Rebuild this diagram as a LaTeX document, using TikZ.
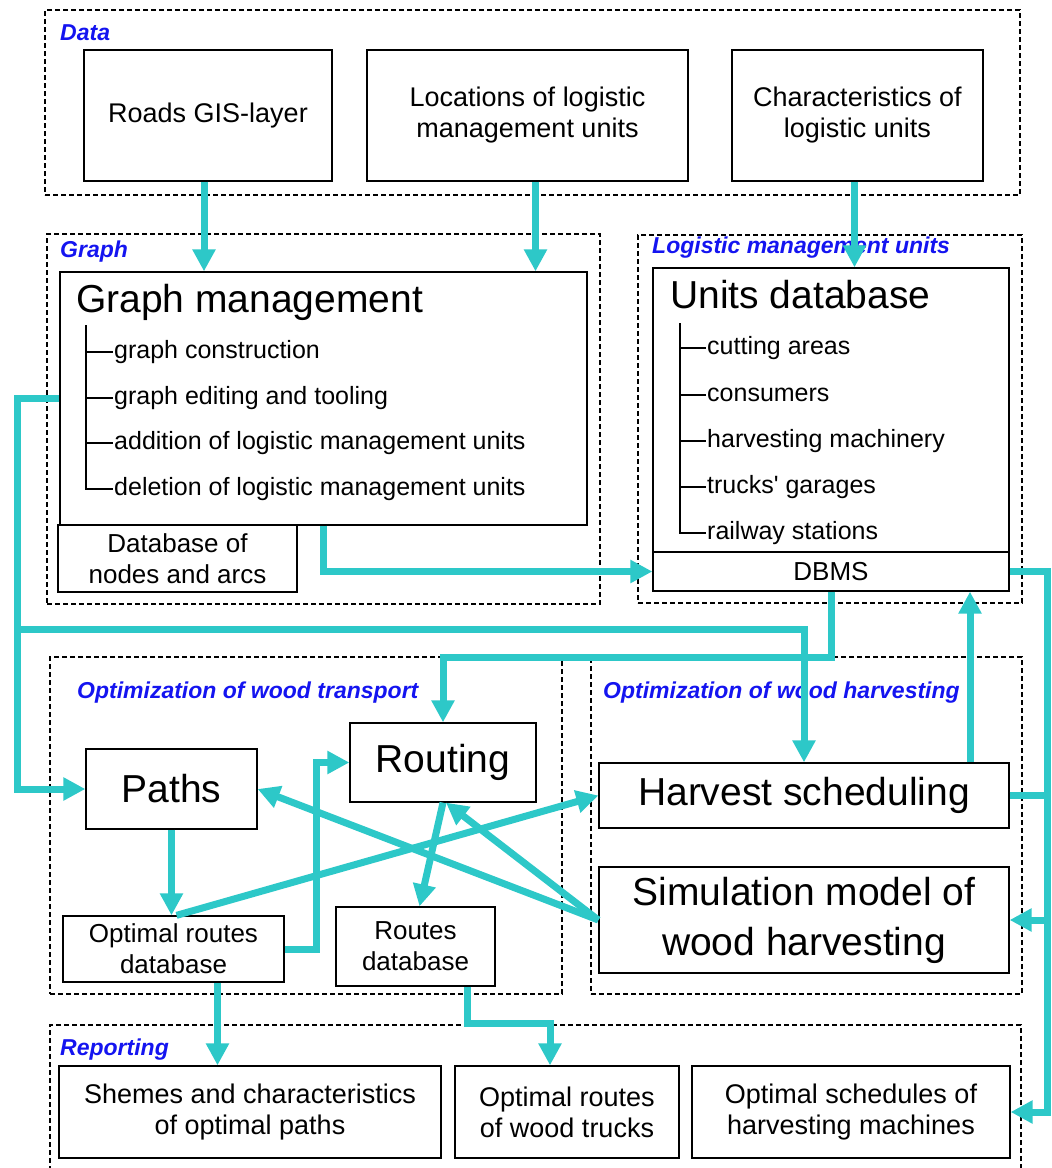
\documentclass[tikz,border=0pt]{standalone}
\usepackage{fontspec}
\setmainfont{Liberation Sans}
\usetikzlibrary{arrows.meta}
\definecolor{flowcyan}{RGB}{45,200,200}
\definecolor{tagblue}{RGB}{20,20,240}
\begin{document}
\begin{tikzpicture}[x=1pt,y=-1pt]
    \tikzstyle{box}=[draw,line width=1.3pt,inner sep=2pt,align=center,font=\fontsize{27}{31}\selectfont];
    \tikzstyle{small}=[box,font=\fontsize{26}{31}\selectfont];
    \tikzstyle{big}=[box,font=\fontsize{39}{50}\selectfont];
    \tikzstyle{group}=[draw,dash pattern=on 5pt off 3pt,line width=1.2pt,inner sep=0pt];
    \tikzstyle{tag}=[anchor=west,inner sep=0pt,text=tagblue,font=\fontsize{23}{27}\selectfont\bfseries\itshape];
    \tikzstyle{item}=[anchor=west,inner sep=1pt,font=\fontsize{25}{30}\selectfont];
    \tikzstyle{flow}=[draw=flowcyan,line width=7pt,-{Triangle[length=22pt,width=22pt]}];
    \tikzstyle{flowline}=[draw=flowcyan,line width=7pt];
    \useasboundingbox (0,0) rectangle (1052,1168);

    \node at (532.5,102.5) (data) [group,minimum width=975,minimum height=185] {};
    \node at (323.5,419)   (graph) [group,minimum width=553,minimum height=370] {};
    \node at (830,419)     (lmu) [group,minimum width=384,minimum height=368] {};
    \node at (306,825.5)   (transport) [group,minimum width=512,minimum height=337] {};
    \node at (806.5,825.5) (harvesting) [group,minimum width=431,minimum height=337] {};
    \node at (535.5,1107.5) (reporting) [group,minimum width=971,minimum height=165] {};

    \node at (60,33)    (tdata) [tag] {Data};
    \node at (60,252)   (tgraph) [tag] {Graph};
    \node at (652,248)  (tlmu) [tag] {Logistic management units};
    \node at (77,693)   (ttransport) [tag] {Optimization of wood transport};
    \node at (603,693)  (tharvesting) [tag] {Optimization of wood harvesting};
    \node at (60,1050)  (treporting) [tag] {Reporting};

    \node at (208,115.5)   (roads) [box,minimum width=248,minimum height=131] {Roads GIS-layer};
    \node at (527.5,115.5) (locs) [box,minimum width=321,minimum height=131] {Locations of logistic\\management units};
    \node at (857.5,115.5) (chars) [box,minimum width=251,minimum height=131] {Characteristics of\\logistic units};

    \node at (323.5,398.5) (gm) [box,minimum width=527,minimum height=253] {};
    \node at (177.5,558.5) (nodesdb) [small,minimum width=239,minimum height=67] {Database of\\nodes and arcs};
    \node at (76,312) (gmtitle) [anchor=base west,inner sep=0pt,font=\fontsize{39}{45}\selectfont] {Graph management};
    \node at (113,352) (gi1) [item] {graph construction};
    \node at (113,398) (gi2) [item] {graph editing and tooling};
    \node at (113,443) (gi3) [item] {addition of logistic management units};
    \node at (113,489) (gi4) [item] {deletion of logistic management units};
    \draw[line width=1.3pt] (86,325) |- (gi4.west);
    \draw[line width=1.3pt] (86,352) -- (gi1.west);
    \draw[line width=1.3pt] (86,398) -- (gi2.west);
    \draw[line width=1.3pt] (86,443) -- (gi3.west);

    \node at (831,410)   (udb) [box,minimum width=356,minimum height=284] {};
    \node at (831,571.5) (dbms) [small,minimum width=356,minimum height=39] {DBMS};
    \node at (670,308) (udbtitle) [anchor=base west,inner sep=0pt,font=\fontsize{39}{45}\selectfont] {Units database};
    \node at (706,348) (ui1) [item] {cutting areas};
    \node at (706,395) (ui2) [item] {consumers};
    \node at (706,441) (ui3) [item] {harvesting machinery};
    \node at (706,487) (ui4) [item] {trucks\textquotesingle{} garages};
    \node at (706,533) (ui5) [item] {railway stations};
    \draw[line width=1.3pt] (680,323) |- (ui5.west);
    \draw[line width=1.3pt] (680,348) -- (ui1.west);
    \draw[line width=1.3pt] (680,395) -- (ui2.west);
    \draw[line width=1.3pt] (680,441) -- (ui3.west);
    \draw[line width=1.3pt] (680,487) -- (ui4.west);

    \node at (171.5,789) (paths) [big,minimum width=171,minimum height=80] {Paths};
    \node at (443,762.5) (routing) [big,minimum width=186,minimum height=79] {Routing};
    \node at (173.5,949) (optdb) [small,minimum width=221,minimum height=66] {Optimal routes\\database};
    \node at (415.5,946.5) (routesdb) [small,minimum width=159,minimum height=79] {Routes\\database};
    \node at (804,795.5) (harv) [big,minimum width=410,minimum height=65] {Harvest scheduling};
    \node at (804,920)   (sim) [big,minimum width=410,minimum height=106] {Simulation model of\\wood harvesting};

    \node at (250,1112) (rep1) [box,minimum width=382,minimum height=92] {Shemes and characteristics\\of optimal paths};
    \node at (567,1112) (rep2) [box,minimum width=224,minimum height=92] {Optimal routes\\of wood trucks};
    \node at (851,1112) (rep3) [box,minimum width=318,minimum height=92] {Optimal schedules of\\harvesting machines};

    \coordinate (hub) at (17,629);
    \coordinate (rbus) at ([xshift=38]sim.east);

    \draw[flow] ([xshift=-4]roads.south) -- ([xshift=-4]roads.south |- gm.north);
    \draw[flow] ([xshift=8]locs.south) -- ([xshift=8]locs.south |- gm.north);
    \draw[flow] ([xshift=-3]chars.south) -- ([xshift=-3]chars.south |- udb.north);
    \draw[flow] (gm.west) -| (hub) -| (harv.north);
    \draw[flow] (hub) |- (paths.west);
    \draw[flow] (gm.south) |- (dbms.west);
    \draw[flow] (dbms.south) -- ++(0,66) -| (routing.north);
    \draw[flow] ([xshift=166]harv.north) -- ([xshift=166]harv.north |- dbms.south);
    \draw[flow] (dbms.east) -| (rbus) -- (sim.east);
    \draw[flowline] (harv.east) -- (harv.east -| rbus);
    \draw[flow] (rbus) |- (rep3.east);
    \draw[flow] (paths.south) -- (paths.south |- optdb.north);
    \draw[flow] ([xshift=3]optdb.north) -- (harv.west);
    \draw[flow] (optdb.east) -- ++(32,0) |- (routing.west);
    \draw[flow] (routing.south) -- ([xshift=4]routesdb.north);
    \draw[flow] (sim.west) -- (paths.east);
    \draw[flow] (sim.west) -- ([xshift=3]routing.south);
    \draw[flow] ([xshift=44]optdb.south) -- ([xshift=44]optdb.south |- rep1.north);
    \draw[flow] ([xshift=52]routesdb.south) -- ++(0,37) -| ([xshift=-17]rep2.north);
\end{tikzpicture}
\end{document}
